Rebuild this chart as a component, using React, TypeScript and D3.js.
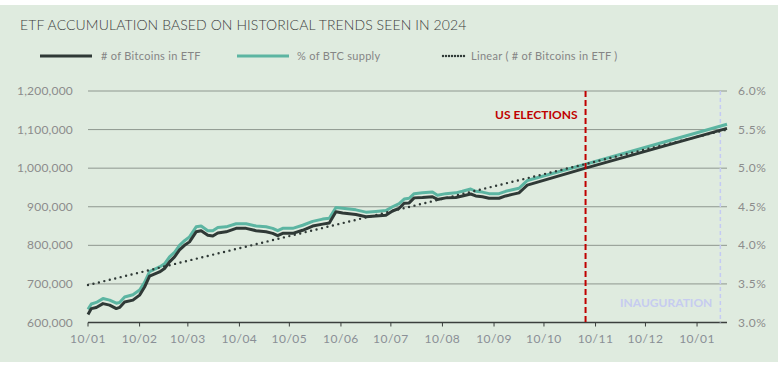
import React from 'react';
import * as d3 from 'd3';

const title = 'ETF ACCUMULATION BASED ON HISTORICAL TRENDS SEEN IN 2024';

const dates = [
  '2024-01-10', '2024-01-12', '2024-01-15', '2024-01-19', '2024-01-23', '2024-01-27', '2024-01-29',
  '2024-02-01', '2024-02-06', '2024-02-10', '2024-02-13', '2024-02-16', '2024-02-22', '2024-02-25',
  '2024-02-28', '2024-03-02', '2024-03-05', '2024-03-08', '2024-03-11', '2024-03-15', '2024-03-18',
  '2024-03-22', '2024-03-25', '2024-03-28', '2024-04-02', '2024-04-08', '2024-04-14', '2024-04-20',
  '2024-04-26', '2024-04-30', '2024-05-03', '2024-05-06', '2024-05-12', '2024-05-18', '2024-05-24',
  '2024-05-30', '2024-06-03', '2024-06-07', '2024-06-11', '2024-06-19', '2024-06-25', '2024-07-01',
  '2024-07-07', '2024-07-11', '2024-07-15', '2024-07-18', '2024-07-21', '2024-07-24', '2024-07-29',
  '2024-08-04', '2024-08-07', '2024-08-12', '2024-08-18', '2024-08-22', '2024-08-27', '2024-08-30',
  '2024-09-03', '2024-09-07', '2024-09-13', '2024-09-17', '2024-09-21', '2024-09-25', '2024-09-28',
  '2024-09-30', '2024-11-04', '2025-01-28',
];

// # of Bitcoins in ETF (left axis)
const bitcoins = [
  621000, 636000, 639000, 649000, 645000, 636000, 639000,
  653000, 658000, 671000, 692000, 720000, 731000, 740000,
  757000, 770000, 788000, 800000, 809000, 835000, 838000,
  826000, 824000, 832000, 835000, 844000, 844000, 838000,
  835000, 831000, 825000, 831000, 831000, 839000, 850000,
  855000, 858000, 887000, 884000, 880000, 874000, 876000,
  878000, 889000, 896000, 909000, 910000, 923000, 924000,
  926000, 919000, 923000, 924000, 928000, 933000, 928000,
  926000, 922000, 922000, 928000, 932000, 936000, 948000,
  956000, 1000000, 1103000,
];

// % of BTC supply (right axis)
const supplyPct = [
  3.17, 3.24, 3.26, 3.31, 3.29, 3.25, 3.26,
  3.33, 3.36, 3.42, 3.52, 3.66, 3.72, 3.76,
  3.85, 3.91, 4.0, 4.06, 4.11, 4.24, 4.25,
  4.19, 4.19, 4.23, 4.24, 4.28, 4.28, 4.25,
  4.24, 4.22, 4.19, 4.22, 4.22, 4.26, 4.31,
  4.34, 4.35, 4.49, 4.48, 4.46, 4.43, 4.44,
  4.45, 4.5, 4.54, 4.6, 4.61, 4.67, 4.68,
  4.69, 4.65, 4.67, 4.68, 4.7, 4.73, 4.7,
  4.69, 4.67, 4.67, 4.7, 4.72, 4.74, 4.8,
  4.84, 5.05, 5.57,
];

// Linear trendline (# of Bitcoins in ETF), start and end
const trendDates = ['2024-01-10', '2025-01-28'];
const trendValues = [697000, 1100000];

const leftTicks = [600000, 700000, 800000, 900000, 1000000, 1100000, 1200000];
const rightTicks = [3.0, 3.5, 4.0, 4.5, 5.0, 5.5, 6.0];
const xTickDates = [
  '2024-01-10', '2024-02-10', '2024-03-10', '2024-04-10', '2024-05-10', '2024-06-10', '2024-07-10',
  '2024-08-10', '2024-09-10', '2024-10-10', '2024-11-10', '2024-12-10', '2025-01-10',
];

const events = [
  { label: 'US ELECTIONS', date: '2024-11-04' },
  { label: 'INAUGURATION', date: '2025-01-24' },
];

const W = 784;
const H = 367;
const font = 'Lato, "Open Sans", sans-serif';
const parse = d3.utcParse('%Y-%m-%d');

export default function App() {
  const left = 88;
  const right = 727;
  const top = 91;
  const bottom = 322.5;

  const x = d3.scaleUtc()
    .domain([parse('2024-01-10')!, parse('2025-01-28')!])
    .range([left, right]);
  const yL = d3.scaleLinear().domain([600000, 1200000]).range([bottom, top]);
  const yR = d3.scaleLinear().domain([3.0, 6.0]).range([bottom, top]);

  const btcLine = d3.line<number>()
    .x((_, i) => x(parse(dates[i])!))
    .y((d) => yL(d));
  const pctLine = d3.line<number>()
    .x((_, i) => x(parse(dates[i])!))
    .y((d) => yR(d));
  const trendLine = d3.line<number>()
    .x((_, i) => x(parse(trendDates[i])!))
    .y((d) => yL(d));

  const fmtX = d3.utcFormat('%d/%m');
  const fmtL = d3.format(',');

  const elX = x(parse(events[0].date)!);
  const inX = x(parse(events[1].date)!);

  return (
    <svg width={W} height={H} style={{ position: 'absolute', left: 0, top: 0 }}>
      <rect x={0} y={0} width={W} height={H} fill="#ffffff" />
      <rect x={0} y={5} width={778} height={357} fill="#dfebdf" />

      <text x={20} y={30} fontFamily={font} fontSize={14} fill="#3d3d3d" fontWeight={300} letterSpacing={0.1}>
        {title}
      </text>

      {/* legend */}
      <g fontFamily={font} fontSize={11} fill="#858585" letterSpacing={0.3}>
        <line x1={40} x2={92} y1={56} y2={56} stroke="#2f3936" strokeWidth={3} />
        <text x={101} y={60}>{'# of Bitcoins in ETF'}</text>
        <line x1={237} x2={289} y1={56} y2={56} stroke="#5cb5a2" strokeWidth={3} />
        <text x={297} y={60}>% of BTC supply</text>
        <line x1={443} x2={467} y1={56} y2={56} stroke="#2f3936" strokeWidth={2.4}
          strokeDasharray="0 3" strokeLinecap="round" />
        <text x={471} y={60}>{'Linear ( # of Bitcoins in ETF )'}</text>
      </g>

      {/* gridlines */}
      {leftTicks.slice(1).map((t) => (
        <line key={t} x1={left} x2={right} y1={yL(t)} y2={yL(t)} stroke="#8e978f" strokeWidth={1} />
      ))}

      {/* left axis labels */}
      <g fontFamily={font} fontSize={12} fill="#8c8c8c" textAnchor="end" letterSpacing={0.2}>
        {leftTicks.map((t) => (
          <text key={t} x={73} y={yL(t) + 4}>{fmtL(t)}</text>
        ))}
      </g>
      {/* right axis labels */}
      <g fontFamily={font} fontSize={12} fill="#8c8c8c" letterSpacing={0.5}>
        {rightTicks.map((t) => (
          <text key={t} x={738} y={yR(t) + 4}>{t.toFixed(1) + '%'}</text>
        ))}
      </g>

      {/* x axis */}
      <line x1={left} x2={right} y1={bottom} y2={bottom} stroke="#3b3f3d" strokeWidth={1.5} />
      <g fontFamily={font} fontSize={12} fill="#8a8f96" textAnchor="middle" letterSpacing={0.5}>
        {xTickDates.map((d) => {
          const xx = x(parse(d)!);
          return (
            <g key={d}>
              <line x1={xx} x2={xx} y1={bottom} y2={bottom + 4} stroke="#3b3f3d" strokeWidth={1} />
              <text x={xx} y={bottom + 20}>{fmtX(parse(d)!)}</text>
            </g>
          );
        })}
      </g>

      {/* event markers */}
      <line x1={inX} x2={inX} y1={top} y2={bottom} stroke="#c4cbf3" strokeWidth={1.5} strokeDasharray="4 3" />
      <text x={inX - 8} y={307} fontFamily={font} fontSize={12} fontWeight={700} fill="#c6ccf0" textAnchor="end">
        {events[1].label}
      </text>

      {/* series */}
      <path d={pctLine(supplyPct)!} fill="none" stroke="#5cb5a2" strokeWidth={3} strokeLinejoin="round" />
      <path d={btcLine(bitcoins)!} fill="none" stroke="#2f3936" strokeWidth={3} strokeLinejoin="round" />
      <path d={trendLine(trendValues)!} fill="none" stroke="#2f3936" strokeWidth={2.4}
        strokeDasharray="0 5.6" strokeLinecap="round" />

      <line x1={elX} x2={elX} y1={top} y2={bottom} stroke="#c00000" strokeWidth={2} strokeDasharray="6 3" />
      <text x={elX - 8} y={119} fontFamily={font} fontSize={12} fontWeight={700} fill="#c00000" textAnchor="end">
        {events[0].label}
      </text>
    </svg>
  );
}
